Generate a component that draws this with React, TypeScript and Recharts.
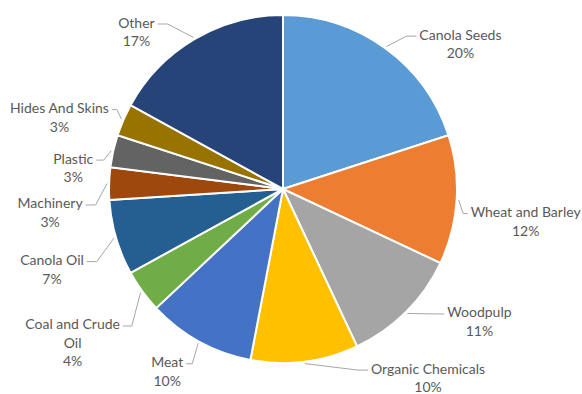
import { PieChart, Pie, Cell } from 'recharts';

const categories = [
  'Canola Seeds', 'Wheat and Barley', 'Woodpulp', 'Organic Chemicals', 'Meat',
  'Coal and Crude Oil', 'Canola Oil', 'Machinery', 'Plastic', 'Hides And Skins', 'Other',
];
const shares = [20, 12, 11, 10, 10, 4, 7, 3, 3, 3, 17];
const colors = [
  '#5B9BD5', '#ED7D31', '#A5A5A5', '#FFC000', '#4472C4',
  '#70AD47', '#255E91', '#9E480E', '#636363', '#997300', '#264478',
];

// label nudges, from the rim point at each slice's middle to the first text line's centre
const labelOffsets: [number, number][] = [
  [74, -13], [67, 11], [72, -2], [123, 4], [-31, 18],
  [-68, 31], [-62, 21], [-57, 19], [-38, 7], [-62, -12], [-57, -16],
];
const labelBreaks: Record<string, string[]> = {
  'Coal and Crude Oil': ['Coal and Crude', 'Oil'],
};

const FONT = 'Lato, "Liberation Sans", sans-serif';
const FONT_SIZE = 14;
const LINE_H = 18.5;

const ctx = document.createElement('canvas').getContext('2d')!;
ctx.font = `${FONT_SIZE}px Lato`;
const textWidth = (s: string) => ctx.measureText(s).width;

const data = categories.map((name, i) => ({ name, value: shares[i] }));

const RAD = Math.PI / 180;

function renderLabel(props: any) {
  const { cx, cy, midAngle, outerRadius, index, name, value } = props;
  const ex = cx + (outerRadius + 2) * Math.cos(-midAngle * RAD);
  const ey = cy + (outerRadius + 2) * Math.sin(-midAngle * RAD);
  const [dx, dy] = labelOffsets[index];
  const tx = ex + dx;
  const ty = ey + dy;
  const lines = [...(labelBreaks[name] ?? [name]), `${value}%`];
  const w = textWidth(lines[0]);
  const right = dx > 0;
  const endX = right ? tx - w / 2 - 3 : tx + w / 2 + 3;
  const endY = ty + 2.5;
  const run = Math.min(10, Math.abs(endX - ex) / 2);
  const kneeX = right ? endX - run : endX + run;
  return (
    <g>
      <polyline
        points={`${ex},${ey} ${kneeX},${endY} ${endX},${endY}`}
        fill="none"
        stroke="#A6A6A6"
        strokeWidth={1}
      />
      <text
        x={tx}
        y={ty}
        textAnchor="middle"
        dominantBaseline="central"
        fill="#595959"
        fontFamily={FONT}
        fontSize={FONT_SIZE}
      >
        {lines.map((l, i) => (
          <tspan key={i} x={tx} y={ty + i * LINE_H}>{l}</tspan>
        ))}
      </text>
    </g>
  );
}

export default function App() {
  return (
    <div style={{ position: 'absolute', left: 0, top: 0, background: '#fff' }}>
      <PieChart width={582} height={394} margin={{ top: 0, right: 0, bottom: 0, left: 0 }}>
        <Pie
          data={data}
          dataKey="value"
          nameKey="name"
          cx={283}
          cy={189}
          outerRadius={174}
          startAngle={90}
          endAngle={-270}
          stroke="#fff"
          strokeWidth={2}
          labelLine={false}
          label={renderLabel}
          isAnimationActive={false}
        >
          {data.map((d, i) => (
            <Cell key={d.name} fill={colors[i]} />
          ))}
        </Pie>
      </PieChart>
    </div>
  );
}
